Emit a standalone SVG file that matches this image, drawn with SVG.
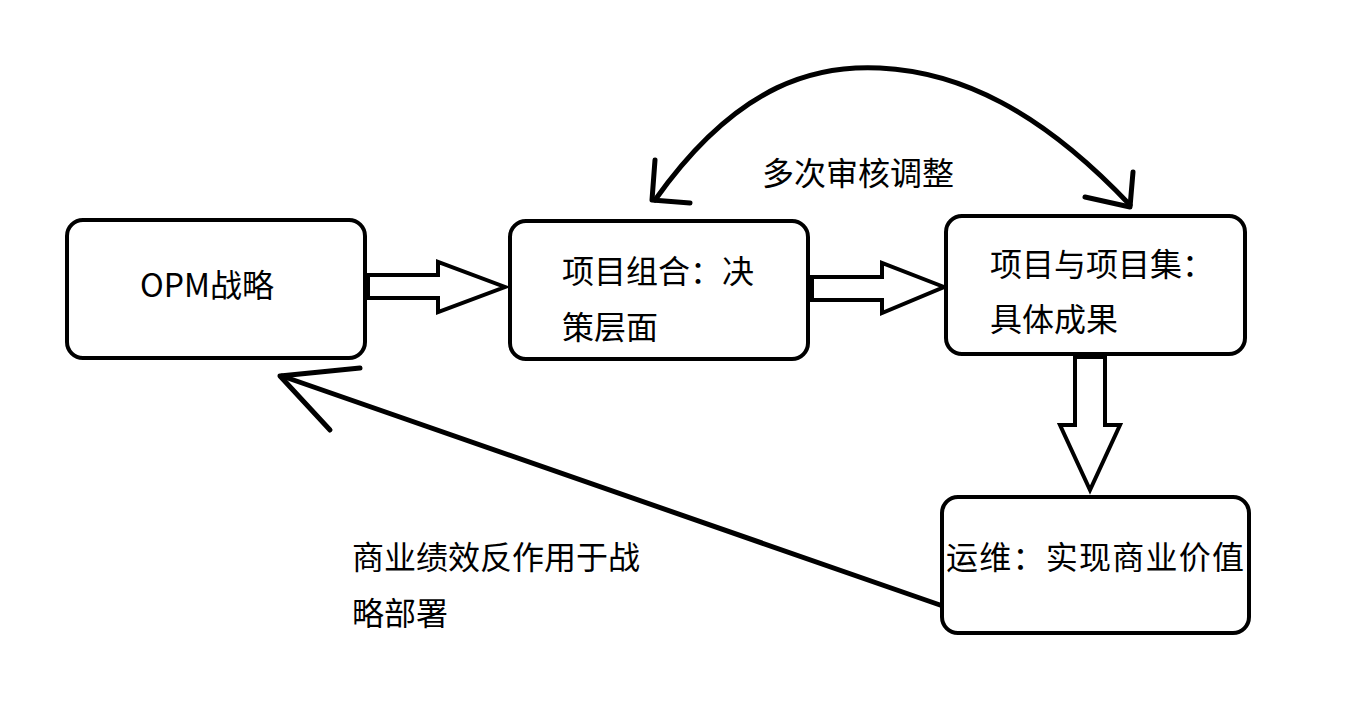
<svg xmlns="http://www.w3.org/2000/svg" width="1348" height="710" viewBox="0 0 1348 710">
<style>
.box{fill:#fff;stroke:#000;stroke-width:4}
.ln{fill:none;stroke:#000;stroke-width:5;stroke-linecap:round;stroke-linejoin:round}
.ha{fill:#fff;stroke:#000;stroke-width:4;stroke-linejoin:miter}
text{font-family:"Noto Sans CJK SC","Noto Sans",sans-serif;font-size:32px;fill:#000}
</style>
<rect width="1348" height="710" fill="#fff"/>
<g id="connectors">
<polygon class="ha" points="368,275 438,275 438,262 505,287 438,312 438,298 368,298"/>
<polygon class="ha" points="812,277 882,277 882,263 944,287 882,313 882,300 812,300"/>
<polygon class="ha" points="1075,357 1105,357 1105,425 1120,425 1090,490 1060,425 1075,425"/>
<path class="ln" d="M655,200 C740,80 820,65 880,68 C960,72 1040,110 1130,205"/>
<polyline class="ln" points="655,160 652,200 690,203"/>
<polyline class="ln" points="1133,172 1130,207 1085,197"/>
<line class="ln" x1="940" y1="605" x2="282" y2="376"/>
<polyline class="ln" points="360,368 280,376 330,430"/>
</g>
<g id="n1"><rect class="box" x="67" y="220" width="298" height="138" rx="16"/><text x="140" y="297">OPM战略</text></g>
<g id="n2"><rect class="box" x="510" y="221" width="298" height="138" rx="16"/><text x="562" y="283">项目组合：决</text><text x="562" y="339">策层面</text></g>
<g id="n3"><rect class="box" x="946" y="216" width="299" height="138" rx="16"/><text x="990" y="276">项目与项目集：</text><text x="990" y="331">具体成果</text></g>
<g id="n4"><rect class="box" x="942" y="497" width="307" height="136" rx="16"/><text x="946" y="569" textLength="298">运维：实现商业价值</text></g>
<g id="labels"><text x="762" y="185">多次审核调整</text><text x="352" y="569">商业绩效反作用于战</text><text x="352" y="625">略部署</text></g>
</svg>
